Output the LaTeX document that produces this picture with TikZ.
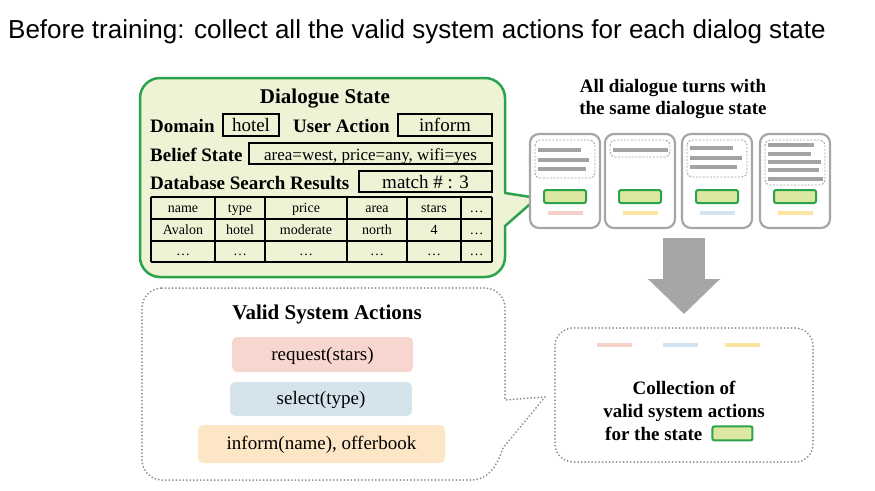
\documentclass[tikz,border=0pt]{standalone}
\usepackage{fontspec}
\setmainfont{Liberation Serif}
\newfontfamily\headfont{Liberation Sans}
\usetikzlibrary{positioning,arrows.meta}

\definecolor{stategreen}{HTML}{2BA24C}
\definecolor{statefill}{HTML}{EEF3D6}
\definecolor{slotfill}{HTML}{DCE7A1}
\definecolor{cardgray}{HTML}{A6A6A6}
\definecolor{bargray}{HTML}{A3A3A3}
\definecolor{dotgray}{HTML}{8E8E8E}
\definecolor{arrowgray}{HTML}{A6A6A6}
\definecolor{actpink}{HTML}{F7D6D0}
\definecolor{actblue}{HTML}{D5E4EC}
\definecolor{actorange}{HTML}{FDE6C5}
\definecolor{linepink}{HTML}{F4D0C9}
\definecolor{lineblue}{HTML}{D3E3EF}
\definecolor{lineyellow}{HTML}{FCE59E}

\begin{document}
\begin{tikzpicture}[x=1pt,y=-1pt,
  head/.style={font=\fontsize{21}{24}\selectfont\bfseries, inner sep=0pt},
  field/.style={font=\fontsize{19}{22}\selectfont\bfseries, inner sep=0pt},
  slotbox/.style={draw, line width=1.2pt, inner sep=0pt, text height=15pt, text depth=2pt, font=\fontsize{19}{22}\selectfont},
  cell/.style={inner sep=0pt, text height=10pt, text depth=2pt, font=\fontsize{14}{16}\selectfont},
  card/.style={draw=cardgray, line width=2.2pt, rounded corners=9pt, fill=white},
  turnbox/.style={draw=bargray, line width=0.9pt, dash pattern=on 2pt off 1.5pt, rounded corners=5pt},
  keybox/.style={draw=stategreen, line width=2pt, fill=slotfill, rounded corners=2pt, inner sep=0pt},
  actbox/.style={rounded corners=5pt, inner sep=0pt, text height=14pt, text depth=3pt, font=\fontsize{19}{22}\selectfont},
  dotline/.style={draw=dotgray, line width=2pt, line cap=round, dash pattern=on 0pt off 3.5pt}]
\useasboundingbox (0,0) rectangle (875,490);

% Title
\node[anchor=base west, inner sep=0pt, font=\headfont\fontsize{26}{30}\selectfont] (title) at (8,38)
  {Before training: collect all the valid system actions for each dialog state};

% Dialogue state bubble
\draw[draw=stategreen, fill=statefill, line width=2.5pt, line join=round]
  (160,78) -- (485,78) .. controls (496,78) and (505,87) .. (505,98) -- (505,193) -- (537,198) -- (505,226)
  -- (505,257) .. controls (505,268) and (496,277) .. (485,277) -- (160,277)
  .. controls (149,277) and (140,268) .. (140,257) -- (140,98) .. controls (140,87) and (149,78) .. (160,78) -- cycle;
\node[head, anchor=base] (dshead) at (325,103) {Dialogue State};

\node[field, anchor=base west] (domain) at (150,132) {Domain};
\node[slotbox, minimum width=56pt, minimum height=22pt] (hotel) at (251,125) {hotel};
\node[field, anchor=base west] (uact) at (293,132) {User Action};
\node[slotbox, minimum width=94pt, minimum height=22pt] (inform) at (445,125) {inform};
\node[field, anchor=base west] (belief) at (150,161) {Belief State};
\node[slotbox, minimum width=243pt, minimum height=21pt, font=\fontsize{17}{20}\selectfont] (bstate) at (370.5,153.5)
  {area=west, price=any, wifi=yes};
\node[field, anchor=base west] (dbres) at (150,189) {Database Search Results};
\node[slotbox, minimum width=133pt, minimum height=21pt] (match) at (425.5,181.5) {match \# : 3};

% Search result table
\foreach \y in {197,219,241,262}
  \draw[line width=1.1pt] (151,\y) -- (492,\y);
\foreach \x in {151,215,265,347,407,461,492}
  \draw[line width=1.1pt] (\x,197) -- (\x,262);
\foreach \cx/\t [count=\c] in {183/name,240/type,306/price,377/area,434/stars,476.5/…}
  \node[cell] (hd-\c) at (\cx,208) {\t};
\foreach \cx/\t [count=\c] in {183/Avalon,240/hotel,306/moderate,377/north,434/4,476.5/…}
  \node[cell] (row-\c) at (\cx,230) {\t};
\foreach \cx [count=\c] in {183,240,306,377,434,476.5}
  \node[cell] (dots-\c) at (\cx,251.5) {…};

% Dialogue turns
\node[field, align=center, font=\fontsize{19}{22}\selectfont\bfseries] (turns) at (673,99)
  {All dialogue turns with\\the same dialogue state};
\foreach \cx/\low/\col [count=\i] in {530/178/linepink,605/157/lineyellow,682/177/lineblue,760/185/lineyellow} {
  \node[card, minimum width=70pt, minimum height=94pt] (card\i) at (\cx+35,181) {};
  \draw[turnbox] (\cx+5,140) rectangle (\cx+65,\low);
  \node[keybox, minimum width=42pt, minimum height=13pt] (key\i) at (\cx+35,196.5) {};
  \draw[line width=4pt, \col] (\cx+18,213) -- (\cx+53,213);
}
\foreach \bx/\by/\bl in {538/150/43,538/160/51,538/169/48,613/150/55,690/148/43,690/158/52,690/167/47,
                         768/145/46,768/154/43,768/162/53,768/170/51,768/179/55}
  \draw[line width=4pt, bargray] (\bx,\by) -- ++(\bl,0);

% Collection of valid actions
\coordinate (arrowtail) at (684,238);
\node[dotline, rounded corners=18pt, minimum width=258pt, minimum height=134pt] (coll) at (684,395) {};
\draw[line width=42pt, arrowgray, -{Triangle[width=70pt,length=35pt]}, shorten >=13pt] (arrowtail) -- (coll.north);
\foreach \x/\col in {597/linepink,663/lineblue,725/lineyellow}
  \draw[line width=4pt, \col] (\x,345) -- ++(35,0);
\node[field, anchor=base] (colltitle) at (684,394) {Collection of};
\node[field, anchor=base] (collsub) at (684,417) {valid system actions};
\node[field, anchor=base west] (forstate) at (605,440) {for the state};
\node[keybox, minimum width=40pt, minimum height=14pt, right=9pt of forstate] (statekey) {};

% Valid system actions bubble
\draw[dotline]
  (162,288) -- (485,288) .. controls (496,288) and (505,297) .. (505,308) -- (505,400) -- (545,397) -- (503,448)
  .. controls (496,468) and (488,480) .. (470,480) -- (162,480)
  .. controls (151,480) and (142,471) .. (142,460) -- (142,308) .. controls (142,297) and (151,288) .. (162,288);
\node[head, anchor=base] (vsa) at (327,319) {Valid System Actions};
\node[actbox, fill=actpink, minimum width=181pt, minimum height=35pt] (req) at (322.5,354.5) {request(stars)};
\node[actbox, fill=actblue, minimum width=182pt, minimum height=34pt] (sel) at (321,399) {select(type)};
\node[actbox, fill=actorange, minimum width=247pt, minimum height=38pt] (inf) at (321.5,444) {inform(name), offerbook};
\end{tikzpicture}
\end{document}
